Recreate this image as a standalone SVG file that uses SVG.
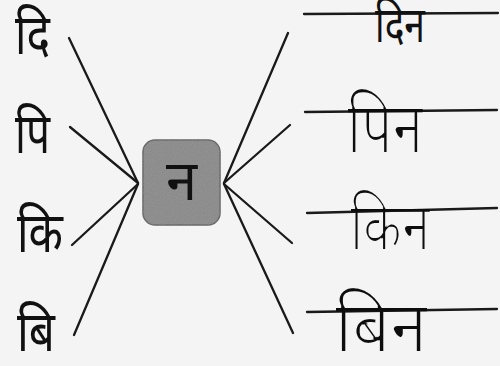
<svg xmlns="http://www.w3.org/2000/svg" width="500" height="366" viewBox="0 0 500 366">
<style>
.lt{font-family:"Noto Sans","Noto Sans CJK SC",sans-serif;font-size:56px;fill:#111}
.hw{font-family:"Noto Sans","Noto Sans CJK SC",sans-serif;fill:#111}
.ln{stroke:#1a1a1a;stroke-width:2.3;stroke-linecap:round;fill:none}
</style>
<defs>
<filter id="grain" x="0" y="0" width="100%" height="100%">
<feTurbulence type="fractalNoise" baseFrequency="0.9" numOctaves="2" seed="3" result="n"/>
<feColorMatrix in="n" type="matrix" values="0 0 0 0 0.35  0 0 0 0 0.35  0 0 0 0 0.35  0 0 0 -1.2 0.9" result="c"/>
<feComposite in="c" in2="SourceGraphic" operator="in"/>
</filter>
<filter id="thin" x="-10%" y="-10%" width="120%" height="120%">
<feMorphology operator="erode" radius="0.8"/>
</filter>
</defs>
<rect width="500" height="366" fill="#f4f4f4"/>
<g id="connectors">
<line class="ln" x1="69" y1="38" x2="138" y2="183"/>
<line class="ln" x1="70" y1="127" x2="138" y2="183"/>
<line class="ln" x1="72" y1="245" x2="138" y2="184"/>
<line class="ln" x1="74" y1="335" x2="138" y2="184"/>
<line class="ln" x1="288" y1="33" x2="224" y2="183"/>
<line class="ln" x1="290" y1="125" x2="224" y2="183"/>
<line class="ln" x1="292" y1="243" x2="224" y2="184"/>
<line class="ln" x1="293" y1="333" x2="224" y2="184"/>
</g>
<g id="left-di"><text class="lt" x="15" y="54" textLength="35" lengthAdjust="spacingAndGlyphs">दि</text></g>
<g id="left-pi"><text class="lt" x="15" y="153" textLength="35" lengthAdjust="spacingAndGlyphs">पि</text></g>
<g id="left-ki"><text class="lt" x="17" y="252" textLength="46" lengthAdjust="spacingAndGlyphs">कि</text></g>
<g id="left-bi"><text class="lt" x="17" y="351" textLength="38" lengthAdjust="spacingAndGlyphs">बि</text></g>
<g id="center-na">
<rect x="143" y="140" width="77" height="85" rx="12" fill="#8a8a8a" stroke="#666" stroke-width="1.5"/>
<rect x="143" y="140" width="77" height="85" rx="12" fill="#fff" filter="url(#grain)" opacity="0.6"/>
<text x="181.5" y="200" text-anchor="middle" class="lt" font-size="45">न</text>
</g>
<g id="right-din">
<line class="ln" x1="304" y1="14" x2="498" y2="13"/>
<text class="hw" x="375" y="42" font-size="50" textLength="50" lengthAdjust="spacingAndGlyphs">दिन</text>
</g>
<g id="right-pin">
<line class="ln" x1="305" y1="112" x2="497" y2="110"/>
<text class="hw" x="347" y="153" font-size="72" textLength="76" lengthAdjust="spacingAndGlyphs" filter="url(#thin)">पिन</text>
</g>
<g id="right-kin">
<line class="ln" x1="307" y1="213" x2="497" y2="208"/>
<text class="hw" x="350" y="250" font-size="68" textLength="80" lengthAdjust="spacingAndGlyphs" filter="url(#thin)">किन</text>
</g>
<g id="right-bin">
<line class="ln" x1="307" y1="312" x2="497" y2="309"/>
<text class="hw" x="335" y="352" font-size="72" textLength="92" lengthAdjust="spacingAndGlyphs" filter="url(#thin)">बिन</text>
</g>
</svg>
